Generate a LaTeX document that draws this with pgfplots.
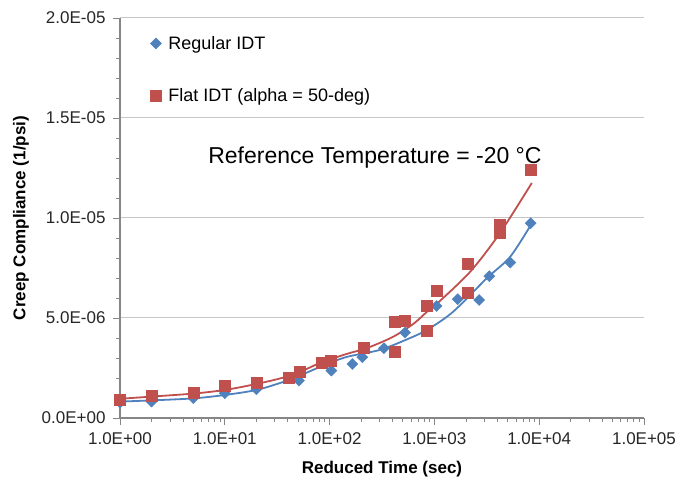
\documentclass[border=0pt]{standalone}
\usepackage{pgfplots}
\pgfplotsset{compat=1.18}
\usepackage{fontspec}
\setmainfont{Liberation Sans}
\definecolor{xlblue}{HTML}{4F81BD}
\definecolor{xlred}{HTML}{C0504D}
\definecolor{axgray}{HTML}{868686}
\begin{document}
\begin{tikzpicture}
\begin{axis}[
    scale only axis,
    width=524pt, height=400pt,
    xmode=log,
    xmin=1, xmax=1e5,
    ymin=0, ymax=2e-5,
    axis lines*=left,
    axis line style={axgray, line width=1.2pt},
    tick style={axgray, line width=0.8pt},
    tick align=outside,
    major tick length=7pt,
    minor tick length=4pt,
    xtick={1,10,100,1000,10000,100000},
    xticklabels={1.0E+00,1.0E+01,1.0E+02,1.0E+03,1.0E+04,1.0E+05},
    minor xtick={2,3,4,5,6,7,8,9,20,30,40,50,60,70,80,90,200,300,400,500,600,700,800,900,2000,3000,4000,5000,6000,7000,8000,9000,20000,30000,40000,50000,60000,70000,80000,90000},
    ytick={0,5e-6,1e-5,1.5e-5,2e-5},
    yticklabels={0.0E+00,5.0E-06,1.0E-05,1.5E-05,2.0E-05},
    minor ytick={1e-6,2e-6,3e-6,4e-6,6e-6,7e-6,8e-6,9e-6,1.1e-5,1.2e-5,1.3e-5,1.4e-5,1.6e-5,1.7e-5,1.8e-5,1.9e-5},
    scaled y ticks=false,
    ymajorgrids=true,
    grid style={gray!45, line width=1pt},
    ticklabel style={font=\fontsize{17}{20}\selectfont, text=black!85},
    xticklabel style={yshift=-4pt},
    yticklabel style={xshift=-4pt},
    xlabel={\textbf{Reduced Time (sec)}},
    ylabel={\textbf{Creep Compliance (1/psi)}},
    label style={font=\fontsize{17}{20}\selectfont},
    xlabel style={yshift=-10pt},
    ylabel style={yshift=6pt},
    clip=false,
    legend style={draw=none, fill=none, at={(axis description cs:0.052,0.965)},
        anchor=north west, font=\fontsize{18}{21}\selectfont, row sep=34pt},
    legend cell align=left,
  ]
  \addplot[only marks, mark=square*, mark size=3.9pt, mark options={rotate=45, fill=xlblue, draw=xlblue}, color=xlblue]
    coordinates {(1,0.77e-6) (2,0.82e-6) (5,0.99e-6) (10,1.24e-6) (20,1.44e-6) (51,1.87e-6)
      (104,2.37e-6) (165,2.70e-6) (205,3.04e-6) (330,3.49e-6) (525,4.27e-6) (1050,5.60e-6)
      (1670,5.94e-6) (2670,5.90e-6) (3340,7.09e-6) (5300,7.77e-6) (8300,9.74e-6)};
  \addlegendentry{\hspace{5pt}Regular IDT}
  \addplot[only marks, mark=square*, mark size=5.5pt, mark options={fill=xlred, draw=xlred}, color=xlred]
    coordinates {(1,0.93e-6) (2,1.10e-6) (5,1.24e-6) (10,1.60e-6) (20,1.74e-6) (41,1.99e-6)
      (52,2.30e-6) (84,2.75e-6) (103,2.85e-6) (210,3.52e-6) (414,3.32e-6) (414,4.82e-6)
      (525,4.88e-6) (845,4.35e-6) (845,5.62e-6) (1050,6.35e-6) (2100,6.24e-6) (2100,7.69e-6)
      (4200,9.65e-6) (4200,9.25e-6) (8300,12.4e-6)};
  \addlegendentry{\hspace{5pt}Flat IDT (alpha = 50-deg)}
  % fitted curves
  \addplot[forget plot, smooth, color=xlblue, line width=1.8pt]
    coordinates {(1,0.82e-6) (2,0.88e-6) (5,0.98e-6) (10,1.15e-6) (20,1.40e-6) (35,1.78e-6)
      (52,2.12e-6) (85,2.60e-6) (145,3.05e-6) (300,3.40e-6) (530,3.90e-6) (845,4.40e-6)
      (1500,5.30e-6) (3150,6.98e-6) (5300,8.07e-6) (8500,9.73e-6)};
  \addplot[forget plot, smooth, color=xlred, line width=1.8pt]
    coordinates {(1,0.96e-6) (2,1.07e-6) (5,1.22e-6) (10,1.40e-6) (20,1.70e-6) (35,2.00e-6)
      (52,2.30e-6) (81,2.75e-6) (145,3.20e-6) (228,3.50e-6) (400,4.05e-6) (628,4.70e-6)
      (845,5.30e-6) (1000,5.60e-6) (2185,7.30e-6) (4227,9.25e-6) (8500,11.75e-6)};
  \node[font=\fontsize{23}{27}\selectfont, text=black] at (rel axis cs:0.4866,0.65)
    {Reference Temperature = -20 °C};
  \path (rel axis cs:-0.229,-0.1575) rectangle (rel axis cs:1.105,1.045);
\end{axis}
\end{tikzpicture}
\end{document}
